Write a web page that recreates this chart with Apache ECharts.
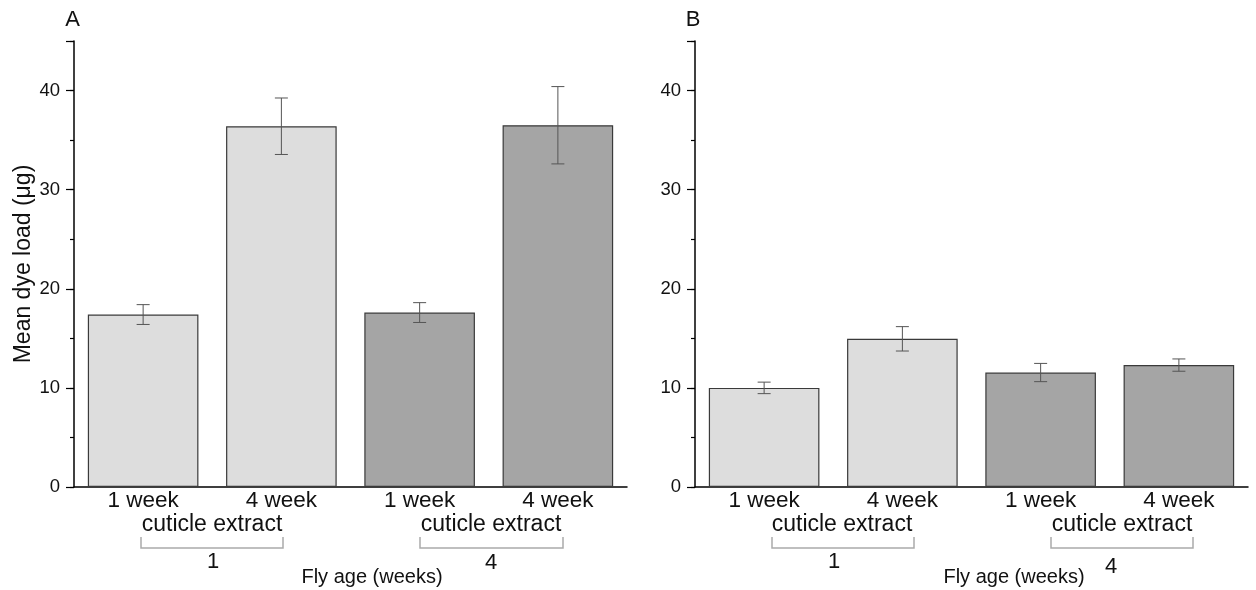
<!DOCTYPE html>
<html>
<head>
<meta charset="utf-8">
<script src="https://cdn.jsdelivr.net/npm/echarts@6/dist/echarts.min.js"></script>
<style>
  html, body { margin: 0; padding: 0; background: #fff; }
  #chart { width: 1256px; height: 590px; }
</style>
</head>
<body>
<div id="chart"></div>
<script>
// categories along x (same for both panels)
const categories = ['1 week', '4 week', '1 week', '4 week']
// panel A: mean dye load and error (half-length)
const meanA = [17.4, 36.4, 17.6, 36.5]
const errA = [1.0, 2.85, 1.0, 3.9]
// panel B
const meanB = [10.0, 14.95, 11.55, 12.3]
const errB = [0.58, 1.23, 0.92, 0.62]
// which fly-age group each bar belongs to (1 = light, 4 = dark)
const barGroup = [1, 1, 4, 4]
const yTicks = [0, 10, 20, 30, 40]

const FONT = 'Liberation Sans, Arial, sans-serif'
const groupColor = { 1: '#dddddd', 4: '#a5a5a5' }

const chart = echarts.init(document.getElementById('chart'))

function barData(values) {
  return values.map((v, i) => ({
    value: v,
    itemStyle: { color: groupColor[barGroup[i]] }
  }))
}

function errData(values, errs) {
  return values.map((v, i) => [i, v, errs[i]])
}

function renderErr(params, api) {
  const i = api.value(0)
  const m = api.value(1)
  const e = api.value(2)
  const top = api.coord([i, m + e])
  const bot = api.coord([i, m - e])
  const cap = 6.5
  const style = { stroke: '#555', lineWidth: 1, fill: null }
  return {
    type: 'group',
    children: [
      { type: 'line', shape: { x1: top[0], y1: top[1], x2: bot[0], y2: bot[1] }, style },
      { type: 'line', shape: { x1: top[0] - cap, y1: top[1], x2: top[0] + cap, y2: top[1] }, style },
      { type: 'line', shape: { x1: bot[0] - cap, y1: bot[1], x2: bot[0] + cap, y2: bot[1] }, style }
    ]
  }
}

function xAxisFor(gridIndex) {
  return {
    type: 'category',
    gridIndex: gridIndex,
    data: categories,
    axisLine: { lineStyle: { color: '#000', width: 1.5 } },
    axisTick: { show: false },
    axisLabel: { color: '#111', fontSize: 22.5, fontFamily: FONT, margin: 2, interval: 0 }
  }
}

function yAxisMain(gridIndex, withName) {
  return {
    type: 'value',
    gridIndex: gridIndex,
    min: 0,
    max: 45,
    interval: 10,
    name: withName ? 'Mean dye load (μg)' : '',
    nameLocation: 'middle',
    nameRotate: 90,
    nameGap: 39,
    nameTextStyle: { color: '#111', fontSize: 23, fontFamily: FONT },
    axisLine: { show: true, lineStyle: { color: '#000', width: 1.5 } },
    axisTick: { show: true, length: 8, lineStyle: { color: '#000', width: 1.2 } },
    axisLabel: {
      color: '#111', fontSize: 18.5, fontFamily: FONT, margin: 14,
      formatter: v => (yTicks.indexOf(v) >= 0 ? String(v) : '')
    },
    splitLine: { show: false }
  }
}

// minor tick axis (every 5)
function yAxisMinor(gridIndex) {
  return {
    type: 'value',
    gridIndex: gridIndex,
    min: 0,
    max: 45,
    interval: 5,
    position: 'left',
    axisLine: { show: false },
    axisTick: { show: true, length: 4, lineStyle: { color: '#000', width: 1.2 } },
    axisLabel: { show: false },
    splitLine: { show: false }
  }
}

const textStyle = { fill: '#111', fontFamily: FONT }

function label(x, y, text, size) {
  return {
    type: 'text', x: x, y: y,
    style: Object.assign({ text: text, fontSize: size, align: 'center', verticalAlign: 'middle' }, textStyle)
  }
}

function bracket(x1, x2, y1, y2) {
  return {
    type: 'polyline',
    shape: { points: [[x1, y1], [x1, y2], [x2, y2], [x2, y1]] },
    style: { stroke: '#aaaaaa', lineWidth: 1.5, fill: null }
  }
}

let option = {
  animation: false,
  grid: [
    { left: 74, top: 41, width: 553, height: 446 },
    { left: 695, top: 41, width: 553, height: 446 }
  ],
  xAxis: [xAxisFor(0), xAxisFor(1)],
  yAxis: [yAxisMain(0, true), yAxisMain(1, false), yAxisMinor(0), yAxisMinor(1)],
  series: [
    {
      type: 'bar', xAxisIndex: 0, yAxisIndex: 0,
      data: barData(meanA),
      barCategoryGap: '20%',
      itemStyle: { borderColor: '#3a3a3a', borderWidth: 1.2 }
    },
    {
      type: 'bar', xAxisIndex: 1, yAxisIndex: 1,
      data: barData(meanB),
      barCategoryGap: '20%',
      itemStyle: { borderColor: '#3a3a3a', borderWidth: 1.2 }
    },
    {
      type: 'custom', xAxisIndex: 0, yAxisIndex: 0,
      data: errData(meanA, errA), renderItem: renderErr, z: 5
    },
    {
      type: 'custom', xAxisIndex: 1, yAxisIndex: 1,
      data: errData(meanB, errB), renderItem: renderErr, z: 5
    }
  ],
  graphic: [
    label(72.5, 20, 'A', 22),
    label(693, 20, 'B', 22),
    // panel A annotations
    label(212, 525, 'cuticle extract', 23),
    bracket(141, 283, 537, 548),
    label(213, 562, '1', 22),
    label(491, 525, 'cuticle extract', 23),
    bracket(420, 563, 537, 548),
    label(491, 563, '4', 22),
    label(372, 577, 'Fly age (weeks)', 20),
    // panel B annotations
    label(842, 525, 'cuticle extract', 23),
    bracket(772, 914, 537, 548),
    label(834, 562, '1', 22),
    label(1122, 525, 'cuticle extract', 23),
    bracket(1051, 1193, 537, 548),
    label(1111, 567, '4', 22),
    label(1014, 577, 'Fly age (weeks)', 20)
  ]
}

chart.setOption(option)
</script>
</body>
</html>
